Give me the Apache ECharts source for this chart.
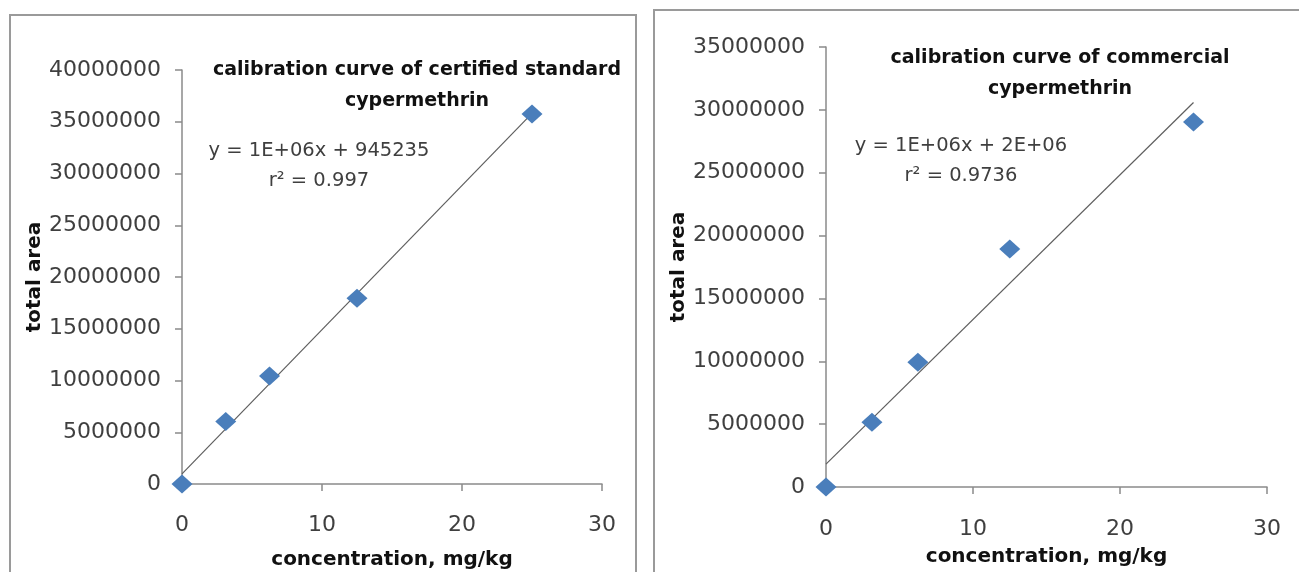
<!DOCTYPE html>
<html>
<head>
<meta charset="utf-8">
<title>calibration curves of cypermethrin</title>
<script src="https://cdn.jsdelivr.net/npm/echarts@6/dist/echarts.min.js"></script>
<style>
    html, body { margin: 0; padding: 0; background: #fff; }
    #chart { width: 1299px; height: 572px; }
</style>
</head>
<body>
<div id="chart"></div>
<script>
// concentration, mg/kg (same for both panels)
var concentration = [0, 3.125, 6.25, 12.5, 25];

// total area
var areaCertified = [0, 6050000, 10430000, 17950000, 35750000];
var areaCommercial = [0, 5150000, 9930000, 18930000, 29030000];

var titles = ['calibration curve of certified standard\ncypermethrin', 'calibration curve of commercial\ncypermethrin'];
var equations = ['y = 1E+06x + 945235\nr\u00b2 = 0.997', 'y = 1E+06x + 2E+06\nr\u00b2 = 0.9736'];

// axis limits
var xMax = 30, xStep = 10;
var yMaxLeft = 40000000, yMaxRight = 35000000, yStep = 5000000;

var FONT = 'DejaVu Sans';
var AXIS_GREY = '#8a8a8a';
var TEXT_GREY = '#3f3f3f';

// least squares fit -> end points of the trend line (from first to last x)
function fitLine(xs, ys) {
    var n = xs.length, sx = 0, sy = 0, sxx = 0, sxy = 0;
    for (var i = 0; i < n; i++) {
        sx += xs[i]; sy += ys[i]; sxx += xs[i] * xs[i]; sxy += xs[i] * ys[i];
    }
    var slope = (n * sxy - sx * sy) / (n * sxx - sx * sx);
    var icept = (sy - slope * sx) / n;
    var x0 = xs[0], x1 = xs[n - 1];
    return [[x0, slope * x0 + icept], [x1, slope * x1 + icept]];
}

function pairs(xs, ys) {
    return xs.map(function (x, i) { return [x, ys[i]]; });
}

var myChart = echarts.init(document.getElementById('chart'));

function xAxisOf(idx, gap, labelMargin) {
    return {
        gridIndex: idx,
        type: 'value',
        min: 0,
        max: xMax,
        interval: xStep,
        name: 'concentration, mg/kg',
        nameLocation: 'middle',
        nameGap: gap,
        nameTextStyle: { fontFamily: FONT, fontWeight: 'bold', fontSize: 20, color: '#111' },
        axisLine: { lineStyle: { color: AXIS_GREY, width: 1.5 } },
        axisTick: { show: true, length: 7, inside: false, lineStyle: { color: AXIS_GREY, width: 1.5 } },
        axisLabel: { margin: labelMargin, fontFamily: FONT, fontSize: 22, color: TEXT_GREY },
        splitLine: { show: false }
    };
}

function yAxisOf(idx, max) {
    return {
        gridIndex: idx,
        type: 'value',
        min: 0,
        max: max,
        interval: yStep,
        name: 'total area',
        nameLocation: 'middle',
        nameRotate: 90,
        nameGap: 136,
        nameTextStyle: { fontFamily: FONT, fontWeight: 'bold', fontSize: 20, color: '#111' },
        axisLine: { show: true, lineStyle: { color: AXIS_GREY, width: 1.5 } },
        axisTick: { show: true, length: 7, lineStyle: { color: AXIS_GREY, width: 1.5 } },
        axisLabel: {
            margin: 21, fontFamily: FONT, fontSize: 22, color: TEXT_GREY,
            formatter: function (v) { return String(v); }
        },
        splitLine: { show: false }
    };
}

function scatterOf(idx, data) {
    return {
        type: 'scatter',
        xAxisIndex: idx,
        yAxisIndex: idx,
        symbol: 'diamond',
        symbolSize: [21, 19],
        itemStyle: { color: '#4a7ebb', opacity: 1 },
        data: data,
        z: 3
    };
}

function trendOf(idx, xs, ys) {
    return {
        type: 'line',
        xAxisIndex: idx,
        yAxisIndex: idx,
        showSymbol: false,
        symbol: 'none',
        lineStyle: { color: '#5e5e5e', width: 1.2 },
        data: fitLine(xs, ys),
        z: 2
    };
}

var option = {
    backgroundColor: '#fff',
    animation: false,
    title: [{
        text: titles[0],
        left: 412,
        top: 50,
        textAlign: 'center',
        textStyle: { fontFamily: FONT, fontWeight: 'bold', fontSize: 19, color: '#111', lineHeight: 31 }
    }, {
        text: titles[1],
        left: 1055,
        top: 38,
        textAlign: 'center',
        textStyle: { fontFamily: FONT, fontWeight: 'bold', fontSize: 19, color: '#111', lineHeight: 31 }
    }],
    graphic: [{
        type: 'rect',
        shape: { x: 10, y: 15, width: 626, height: 600 },
        style: { fill: 'none', stroke: '#9a9a9a', lineWidth: 2 },
        silent: true
    }, {
        type: 'rect',
        shape: { x: 654, y: 10, width: 700, height: 600 },
        style: { fill: 'none', stroke: '#9a9a9a', lineWidth: 2 },
        silent: true
    }, {
        type: 'text',
        x: 319,
        y: 136,
        style: {
            text: equations[0], fontFamily: FONT, fontSize: 19.5, lineHeight: 30,
            fill: TEXT_GREY, align: 'center'
        }
    }, {
        type: 'text',
        x: 961,
        y: 131,
        style: {
            text: equations[1], fontFamily: FONT, fontSize: 19.5, lineHeight: 30,
            fill: TEXT_GREY, align: 'center'
        }
    }],
    grid: [
        { left: 182, top: 70, width: 420, height: 414, outerBoundsMode: 'none', containLabel: false },
        { left: 826, top: 47, width: 441, height: 440, outerBoundsMode: 'none', containLabel: false }
    ],
    xAxis: [xAxisOf(0, 66, 30), xAxisOf(1, 60, 31)],
    yAxis: [yAxisOf(0, yMaxLeft), yAxisOf(1, yMaxRight)],
    series: [
        trendOf(0, concentration, areaCertified),
        scatterOf(0, pairs(concentration, areaCertified)),
        trendOf(1, concentration, areaCommercial),
        scatterOf(1, pairs(concentration, areaCommercial))
    ]
};

myChart.setOption(option);
window.addEventListener('resize', myChart.resize);
</script>
</body>
</html>
